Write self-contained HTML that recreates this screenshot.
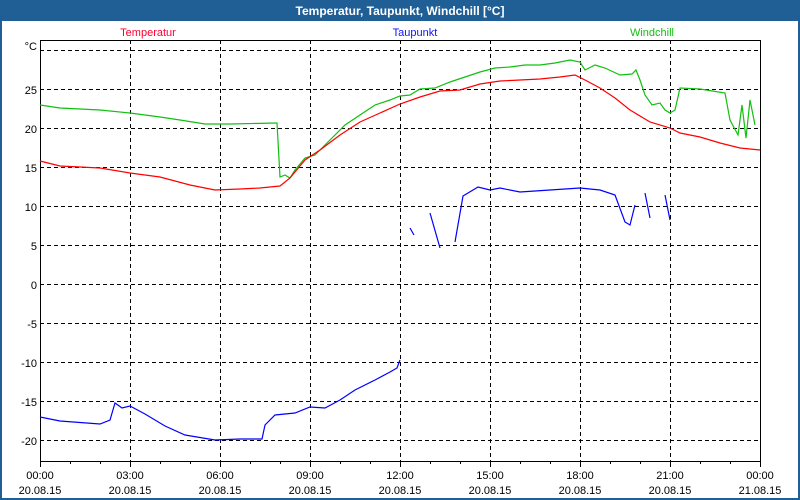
<!DOCTYPE html>
<html><head><meta charset="utf-8"><style>
html,body{margin:0;padding:0;width:800px;height:500px;overflow:hidden;background:#1f5f96}
</style></head><body>
<svg width="800" height="500" xmlns="http://www.w3.org/2000/svg" font-family="Liberation Sans, sans-serif" font-size="11">
<rect x="0" y="0" width="800" height="500" fill="#1f5f96"/>
<rect x="2" y="21" width="796" height="477" fill="#fff"/>
<text x="400" y="15" text-anchor="middle" fill="#fff" font-weight="bold" font-size="12">Temperatur, Taupunkt, Windchill [°C]</text>
<text x="148" y="36" text-anchor="middle" fill="#ff0030">Temperatur</text>
<text x="415" y="36" text-anchor="middle" fill="#1010ff">Taupunkt</text>
<text x="652" y="36" text-anchor="middle" fill="#10c010">Windchill</text>
<g stroke="#000" stroke-dasharray="4,3" stroke-width="1" fill="none">
<path d="M40 50.5H760M40 89.5H760M40 128.5H760M40 167.5H760M40 206.5H760M40 245.5H760M40 284.5H760M40 323.5H760M40 362.5H760M40 401.5H760M40 440.5H760"/>
<path d="M130.5 40V461M220.5 40V461M310.5 40V461M400.5 40V461M490.5 40V461M580.5 40V461M670.5 40V461"/>
</g>
<rect x="40.5" y="40.5" width="720" height="421" fill="none" stroke="#000"/>
<g stroke="#000"><path d="M40.5 461V467M70.5 461V464M100.5 461V464M130.5 461V467M160.5 461V464M190.5 461V464M220.5 461V467M250.5 461V464M280.5 461V464M310.5 461V467M340.5 461V464M370.5 461V464M400.5 461V467M430.5 461V464M460.5 461V464M490.5 461V467M520.5 461V464M550.5 461V464M580.5 461V467M610.5 461V464M640.5 461V464M670.5 461V467M700.5 461V464M730.5 461V464M760.5 461V467"/></g>
<g text-anchor="end" fill="#000">
<text x="37" y="50">°C</text>
<text x="37" y="94">25</text><text x="37" y="133">20</text><text x="37" y="172">15</text><text x="37" y="211">10</text><text x="37" y="250">5</text><text x="37" y="289">0</text><text x="37" y="328">-5</text><text x="37" y="367">-10</text><text x="37" y="406">-15</text><text x="37" y="445">-20</text>
</g>
<g text-anchor="middle" fill="#000">
<text x="40" y="479">00:00</text><text x="40" y="494">20.08.15</text>
<text x="130" y="479">03:00</text><text x="130" y="494">20.08.15</text>
<text x="220" y="479">06:00</text><text x="220" y="494">20.08.15</text>
<text x="310" y="479">09:00</text><text x="310" y="494">20.08.15</text>
<text x="400" y="479">12:00</text><text x="400" y="494">20.08.15</text>
<text x="490" y="479">15:00</text><text x="490" y="494">20.08.15</text>
<text x="580" y="479">18:00</text><text x="580" y="494">20.08.15</text>
<text x="670" y="479">21:00</text><text x="670" y="494">20.08.15</text>
<text x="760" y="479">00:00</text><text x="760" y="494">21.08.15</text>
</g>
<g fill="none" stroke-width="1.2">
<polyline stroke="#10c010" points="40,105 60,108 80,109 100,110 130,113 160,117 180,120 205,124 230,124 275,123 277,123 280,177 285,175 290,178 295,170 305,158 315,155 330,140 345,125 360,115 375,105 390,100 400,96 410,95 420,89 435,88 450,82 465,77 480,72 495,68 510,67 525,65 540,65 555,63 570,60 580,62 585,70 595,65 605,68 620,75 632,74 636,70 640,80 645,95 652,105 660,103 665,110 670,113 675,110 680,88 700,89 725,93 730,120 738,135 742,105 746,138 750,100 755,125"/>
<polyline stroke="#ff0000" points="40,161 60,166 100,168 130,173 160,177 190,185 215,190 240,189 260,188 280,186 290,178 305,160 320,150 340,135 360,122 380,113 400,104 420,97 440,91 460,90 480,84 500,81 520,80 540,79 560,77 575,75 585,80 600,88 615,98 630,110 650,122 670,128 680,133 700,137 720,143 740,148 760,150"/>
<polyline stroke="#0000ff" points="40,417 60,421 100,424 110,420 115,403 122,408 130,406 145,414 165,426 185,435 215,440 240,439 262,439 265,425 275,415 295,413 310,407 325,408 340,400 355,390 375,380 390,372 397,368 400,360"/>
<polyline stroke="#0000ff" points="410,228 414,235"/>
<polyline stroke="#0000ff" points="430,213 440,248"/>
<polyline stroke="#0000ff" points="455,242 463,196 478,187 490,190 500,188 520,192 550,190 580,188 600,190 615,195 625,222 630,225 635,205"/>
<polyline stroke="#0000ff" points="645,193 650,218"/>
<polyline stroke="#0000ff" points="665,195 670,220"/>
</g>
</svg>
</body></html>
